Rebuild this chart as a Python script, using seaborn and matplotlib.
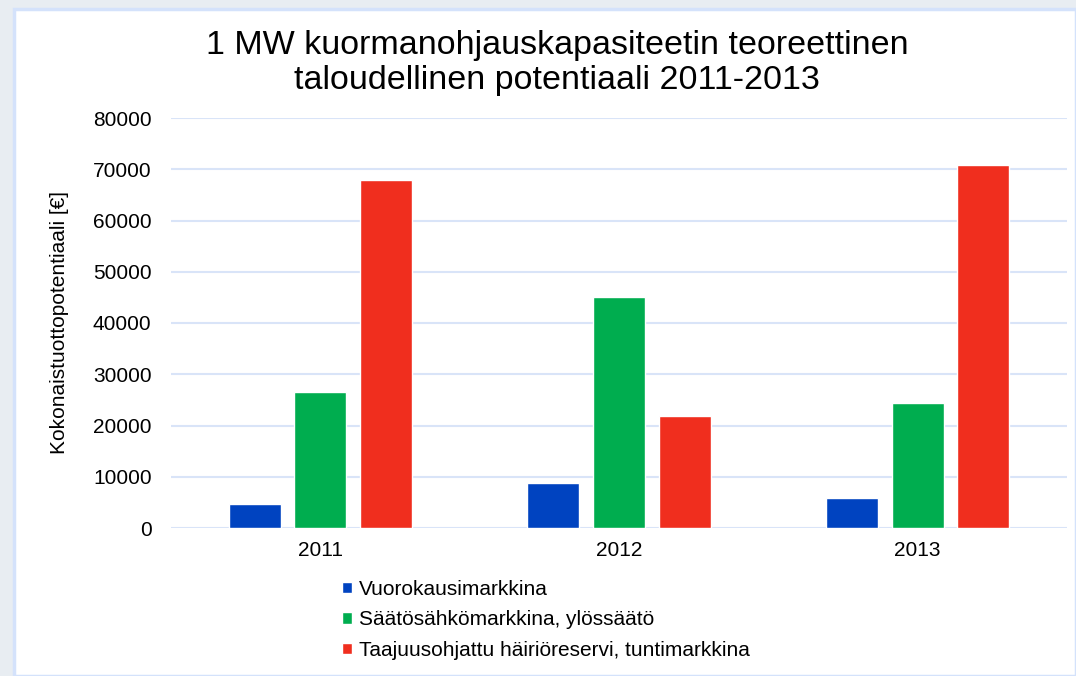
import numpy as np
import matplotlib.pyplot as plt
import pandas as pd
import seaborn as sns
from matplotlib.patches import Rectangle

# data
years = ['2011', '2012', '2013']
vuorokausi = [4700, 8700, 5900]
saatosahko = [26500, 45100, 24400]
taajuus = [67900, 21900, 70900]
series = ['Vuorokausimarkkina', 'Säätösähkömarkkina, ylössäätö',
          'Taajuusohjattu häiriöreservi, tuntimarkkina']
colors = ['#0043C0', '#00AD4F', '#F02E1E']

df = pd.DataFrame({'year': years * 3,
                   'value': vuorokausi + saatosahko + taajuus,
                   'series': [s for s in series for _ in years]})

sns.set_style('white')
plt.rcParams['font.family'] = ['Liberation Sans', 'DejaVu Sans']
plt.rcParams['text.color'] = 'black'
plt.rcParams['xtick.color'] = 'black'
plt.rcParams['ytick.color'] = 'black'
plt.rcParams['axes.labelcolor'] = 'black'

fig = plt.figure(figsize=(10.76, 6.76), dpi=100)
fig.patch.set_facecolor('#E8EDF2')
# white chart panel with light blue border
fig.patches.append(Rectangle((14 / 1076, 0), 1 - 14 / 1076, 1 - 9 / 676,
                             transform=fig.transFigure, facecolor='white',
                             edgecolor='#D4E2FB', linewidth=2.5, zorder=-10))

ax = fig.add_axes([171 / 1076, 1 - 528 / 676, (1067 - 171) / 1076, 410 / 676])
ax.set_facecolor('none')
sns.barplot(data=df, x='year', y='value', hue='series', palette=colors,
            width=0.66, gap=0.21, ax=ax, saturation=1, zorder=3)
ax.set_ylim(0, 80000)
ax.set_yticks(range(0, 80001, 10000))
ax.grid(axis='y', color='#D9E4F8', linewidth=1.5, zorder=0)
ax.set_axisbelow(True)
sns.despine(ax=ax, left=True, bottom=True)
ax.tick_params(axis='y', length=0, pad=14, labelsize=15)
ax.tick_params(axis='x', length=0, pad=9, labelsize=15)
ax.set_xlabel('')
ax.set_ylabel('Kokonaistuottopotentiaali [€]', fontsize=15)
ax.yaxis.set_label_coords(-102 / 896, 0.5)

fig.text(0.518, 1 - 63 / 676, '1 MW kuormanohjauskapasiteetin teoreettinen\ntaloudellinen potentiaali 2011-2013',
         ha='center', va='center', fontsize=24.5, linespacing=1.2)

ax.legend(loc='upper left', bbox_to_anchor=(342 / 1076, 1 - 580 / 676),
          bbox_transform=fig.transFigure, frameon=False, fontsize=15,
          handlelength=0.5, handleheight=0.45, handletextpad=0.3,
          labelspacing=0.55, borderaxespad=0, borderpad=0)

fig.savefig('out.png', dpi=100, facecolor=fig.get_facecolor())
